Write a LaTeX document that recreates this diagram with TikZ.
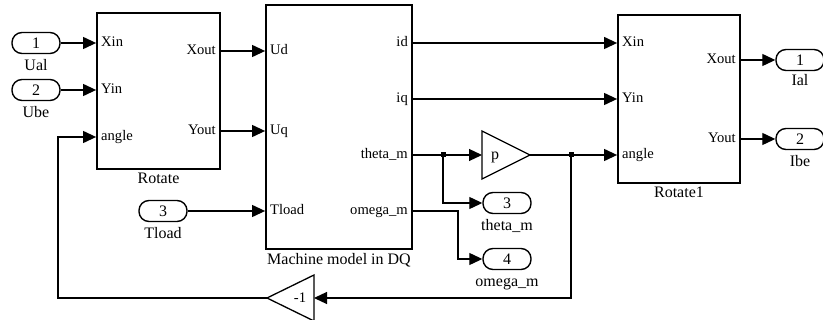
\documentclass[tikz,border=0pt]{standalone}
\usepackage{fontspec}
\setmainfont{Liberation Serif}
\usetikzlibrary{arrows.meta}
\begin{document}
\begin{tikzpicture}[x=1pt,y=-1pt,
  blk/.style={draw, line width=1.8pt, inner sep=0pt},
  sig/.style={line width=1.2pt},
  arr/.style={sig, -{Triangle[length=13pt,width=12pt]}},
  port/.style={draw, line width=1.4pt, rounded corners=10pt, minimum width=48pt, minimum height=21pt, inner sep=0pt, font=\fontsize{16}{18}\selectfont},
  plab/.style={inner sep=0pt, font=\fontsize{14.6}{16}\selectfont, text height=9.5pt, text depth=3pt},
  blab/.style={inner sep=0pt, font=\fontsize{16}{18}\selectfont, text height=11pt, text depth=3.5pt},
  dot/.style={fill, minimum size=5pt, inner sep=0pt}]
\useasboundingbox (0,0) rectangle (823,320);
% blocks
\node[blk, minimum width=123pt, minimum height=156pt] (rot) at (158.5,91) {};
\node[blk, minimum width=146pt, minimum height=244pt] (mach) at (339,127) {};
\node[blk, minimum width=122pt, minimum height=168pt] (rot1) at (679,99) {};
\node[blab] (rotl) at (158.5,180) {Rotate};
\node[blab] (machl) at (339,261) {Machine model in DQ};
\node[blab] (rot1l) at (679,194) {Rotate1};
% port labels
\node[plab, anchor=west] (rxin) at (101,43) {Xin};
\node[plab, anchor=west] (ryin) at (101,90) {Yin};
\node[plab, anchor=west] (rang) at (101,137) {angle};
\node[plab, anchor=east] (rxout) at (216,51) {Xout};
\node[plab, anchor=east] (ryout) at (216,131) {Yout};
\node[plab, anchor=west] (mud) at (270,51) {Ud};
\node[plab, anchor=west] (muq) at (270,131) {Uq};
\node[plab, anchor=west] (mtl) at (270,211) {Tload};
\node[plab, anchor=east] (mid) at (408,43) {id};
\node[plab, anchor=east] (miq) at (408,99) {iq};
\node[plab, anchor=east] (mth) at (408,155) {theta\_m};
\node[plab, anchor=east] (mom) at (408,211) {omega\_m};
\node[plab, anchor=west] (sxin) at (622,43) {Xin};
\node[plab, anchor=west] (syin) at (622,99) {Yin};
\node[plab, anchor=west] (sang) at (622,155) {angle};
\node[plab, anchor=east] (sxout) at (736,60) {Xout};
\node[plab, anchor=east] (syout) at (736,139) {Yout};
% in/out ports
\node[port] (in1) at (36,43) {1};
\node[blab] (in1l) at (36,67) {Ual};
\node[port] (in2) at (36,90) {2};
\node[blab] (in2l) at (36,114) {Ube};
\node[port] (in3) at (163,211) {3};
\node[blab] (in3l) at (163,235) {Tload};
\node[port] (out3) at (507,203) {3};
\node[blab] (out3l) at (507,227) {theta\_m};
\node[port] (out4) at (507,259) {4};
\node[blab] (out4l) at (507,283) {omega\_m};
\node[port] (o1) at (800,60) {1};
\node[blab] (o1l) at (800,82) {Ial};
\node[port] (o2) at (800,139) {2};
\node[blab] (o2l) at (800,163) {Ibe};
% gains
\coordinate (gpin) at (482,155);
\coordinate (gpout) at (530,155);
\draw[line width=1.3pt] (482,131) -- (530,155) -- (482,179) -- cycle;
\node[blab] (gpl) at (495,156) {p};
\coordinate (gnin) at (314,298);
\coordinate (gnout) at (267,298);
\draw[line width=1.3pt] (314,275) -- (267,298) -- (314,321) -- cycle;
\node[plab] (gnl) at (300,299) {-1};
% junctions
\node[dot] (j1) at (443,155) {};
\node[dot] (j2) at (571,155) {};
\coordinate (c1) at (458,211);
\coordinate (c2) at (571,298);
\coordinate (c3) at (58,298);
% connectors
\draw[arr] (in1.east) -- (rot.west |- in1.east);
\draw[arr] (in2.east) -- (rot.west |- in2.east);
\draw[arr] (rot.east |- rxout) -- (mach.west |- mud);
\draw[arr] (rot.east |- ryout) -- (mach.west |- muq);
\draw[arr] (in3.east) -- (mach.west |- in3.east);
\draw[arr] (mach.east |- mid) -- (rot1.west |- mid);
\draw[arr] (mach.east |- miq) -- (rot1.west |- miq);
\draw[arr] (mach.east |- mth) -- (gpin);
\draw[arr] (j1.center) |- (out3.west);
\draw[arr] (mach.east |- mom) -- (c1) |- (out4.west);
\draw[arr] (gpout) -- (rot1.west |- gpout);
\draw[arr] (j2.center) -- (c2) -- (gnin);
\draw[arr] (gnout) -- (c3) |- (rot.west |- rang);
\draw[arr] (rot1.east |- sxout) -- (o1.west);
\draw[arr] (rot1.east |- syout) -- (o2.west);
\end{tikzpicture}
\end{document}
